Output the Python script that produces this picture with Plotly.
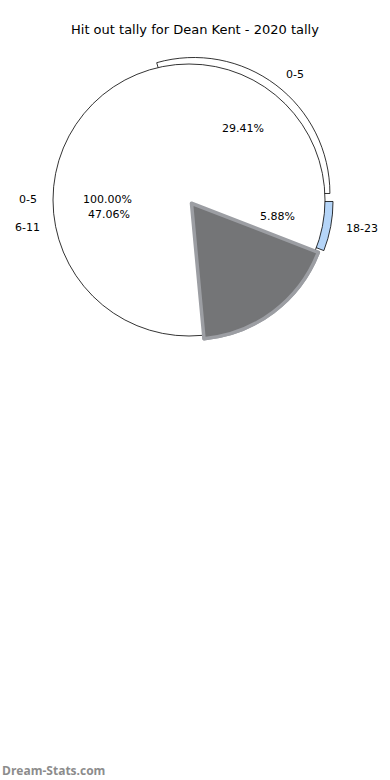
import numpy as np
import plotly.graph_objects as go

# ---- data ----
chart_title = "Hit out tally for Dean Kent - 2020 tally"
overall_labels = ["0-5"]
overall_values = [100.0]
age_labels = ["0-5", "6-11", "12-17", "18-23"]
age_values = [29.41, 47.06, 17.65, 5.88]
age_text_visible = [True, True, False, True]   # 12-17 text is hidden under the shadow in the original
watermark = "Dream-Stats.com"

# ---- styles ----
age_pull = [0.06, 0.0, 0.03, 0.06]
age_colors = ["#ffffff", "#ffffff", "#747577", "#b5d5f8"]
age_line_colors = ["#000000", "#ffffff", "#9c9ea3", "#000000"]
age_line_widths = [0.8, 0.8, 3.5, 0.8]

W, H = 390, 780
CX, CY, R = 189, 200, 136
FONT = "DejaVu Sans"


def domain(half):
    return dict(x=[(CX - half) / W, (CX + half) / W],
                y=[1 - (CY + half) / H, 1 - (CY - half) / H])


def ccw_rotation(values):
    # plotly counterclockwise pies place the first slice clockwise of `rotation`;
    # shift so the sequence starts at 3 o'clock like matplotlib's default
    return 90 - 360.0 * values[0] / float(sum(values))


data_dom = domain(R * (1 + max(age_pull)))
overall_dom = domain(R)

common = dict(sort=False, direction="counterclockwise",
              textinfo="none", showlegend=False, hoverinfo="label+percent")

fig = go.Figure()
# data pie (bottom)
fig.add_trace(go.Pie(labels=age_labels, values=age_values, pull=age_pull,
                     rotation=ccw_rotation(age_values),
                     marker=dict(colors=age_colors,
                                 line=dict(color=age_line_colors, width=age_line_widths)),
                     domain=data_dom, **common))
# overall pie (middle)
fig.add_trace(go.Pie(labels=overall_labels, values=overall_values,
                     rotation=ccw_rotation(overall_values),
                     marker=dict(colors=["#ffffff"], line=dict(color="#000000", width=0.8)),
                     domain=overall_dom, **common))
# shadowed lower slice drawn over the top
top_colors = [c if not v else "rgba(0,0,0,0)" for c, v in zip(age_colors, age_text_visible)]
top_lines = [c if not v else "rgba(0,0,0,0)" for c, v in zip(age_line_colors, age_text_visible)]
fig.add_trace(go.Pie(labels=age_labels, values=age_values, pull=age_pull,
                     rotation=ccw_rotation(age_values),
                     marker=dict(colors=top_colors,
                                 line=dict(color=top_lines, width=age_line_widths)),
                     domain=data_dom, **common))

# ---- text placed matplotlib-style (label at 1.1 R, percent at 0.6 R) ----
annotations = []


def add_texts(labels, values, pulls, visible):
    total = float(sum(values))
    start = 0.0
    for lab, val, p, vis in zip(labels, values, pulls, visible):
        frac = val / total
        mid = np.deg2rad((start + frac / 2) * 360.0)
        start += frac
        if not vis:
            continue
        c, s = np.cos(mid), np.sin(mid)
        lx = CX + (1.1 + p) * R * c
        ly = CY - (1.1 + p) * R * s
        annotations.append(dict(x=lx / W, y=1 - ly / H, xref="paper", yref="paper",
                                text=lab, showarrow=False,
                                xanchor="left" if c > 0 else "right", yanchor="middle",
                                font=dict(family=FONT, size=11, color="#000")))
        px = CX + (0.6 + p) * R * c
        py = CY - (0.6 + p) * R * s
        annotations.append(dict(x=px / W, y=1 - py / H, xref="paper", yref="paper",
                                text=f"{frac * 100:.2f}%", showarrow=False,
                                xanchor="center", yanchor="middle",
                                font=dict(family=FONT, size=11, color="#000")))


add_texts(overall_labels, overall_values, [0.0], [True])
add_texts(age_labels, age_values, age_pull, age_text_visible)

annotations.append(dict(x=0.5, y=1 - 30 / H, xref="paper", yref="paper",
                        text=chart_title, showarrow=False,
                        xanchor="center", yanchor="middle",
                        font=dict(family=FONT, size=13, color="#000")))
annotations.append(dict(x=0.0, y=1 - 770 / H, xref="paper", yref="paper",
                        text="<b>" + watermark + "</b>", showarrow=False,
                        xanchor="left", yanchor="middle",
                        font=dict(family="Open Sans", size=12, color="#8c8c8c")))

fig.update_layout(width=W, height=H, margin=dict(l=0, r=0, t=0, b=0),
                  paper_bgcolor="white", plot_bgcolor="white",
                  annotations=annotations, showlegend=False)

fig.write_html("out.html", config={"displayModeBar": False},
               post_script="document.body.style.margin='0';")
